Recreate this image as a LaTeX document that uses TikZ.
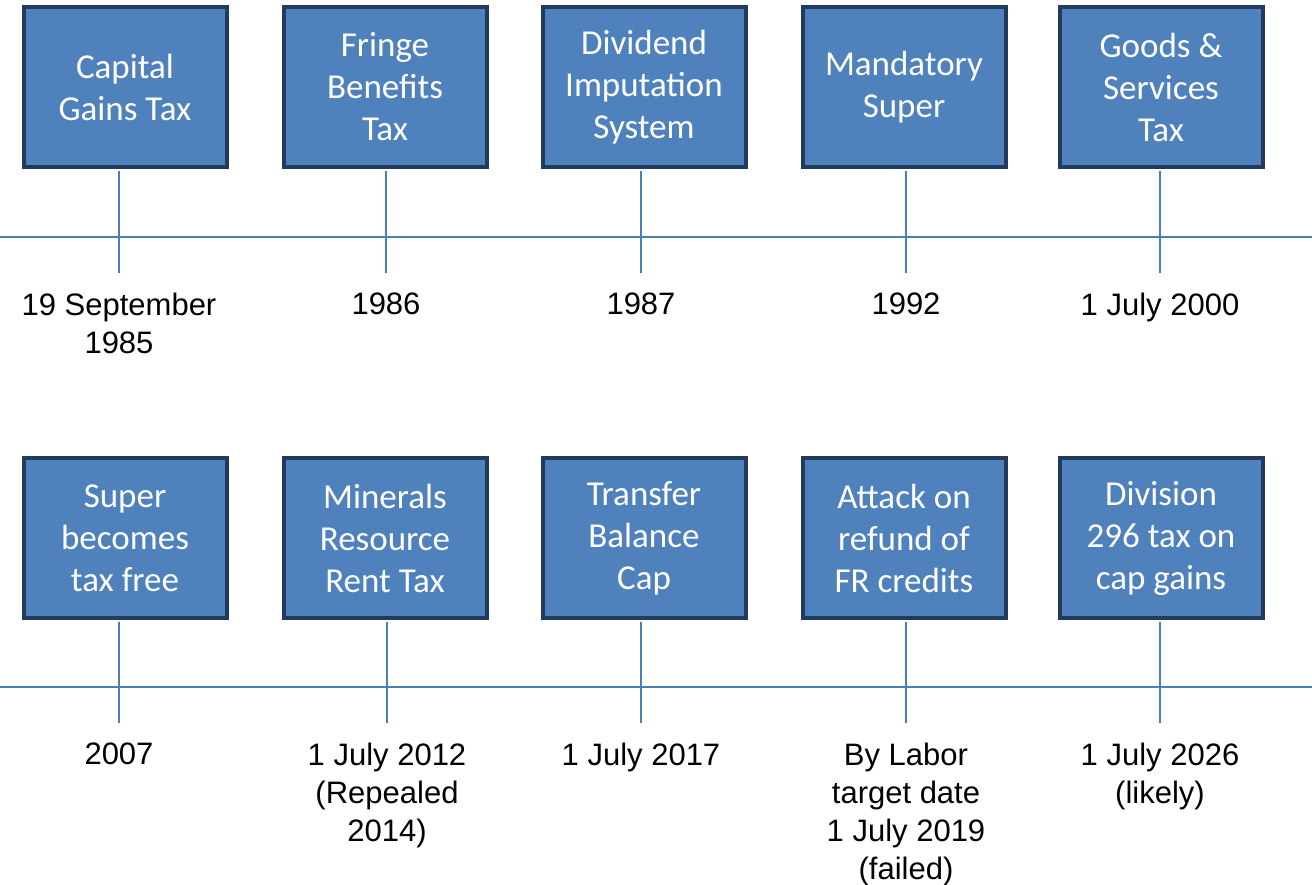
\documentclass[tikz,border=0pt]{standalone}
\usepackage{fontspec}
\setmainfont{Liberation Sans}
\newfontfamily\boxfont{Carlito}
\usetikzlibrary{positioning}

\definecolor{boxblue}{HTML}{4F81BD}
\definecolor{boxedge}{HTML}{223A5C}
\definecolor{lineblue}{HTML}{4A7EBB}

\tikzset{
    event/.style={draw=boxedge, line width=4pt, fill=boxblue, text=white,
        minimum width=203pt, minimum height=160pt, inner sep=0pt, align=center,
        font=\boxfont\fontsize{35}{42}\selectfont},
    date/.style={inner sep=0pt, align=center, font=\fontsize{31}{38}\selectfont},
    tl/.style={draw=lineblue, line width=1.5pt}
}

\begin{document}
\begin{tikzpicture}[x=1pt,y=-1pt]
    \useasboundingbox (0,0) rectangle (1312,885);
    % top row
    \coordinate (left1) at (0,237);
    \coordinate (right1) at (1312,237);
    \draw[tl] (left1) -- (right1);
    \foreach \bx/\x/\n/\what/\when in {
        125/119/cgt/{Capital\\Gains Tax}/{19 September\\1985},
        385/386/fbt/{Fringe\\Benefits\\Tax}/{1986},
        644/641/div/{Dividend\\Imputation\\System}/{1987},
        904/906/sup/{Mandatory\\Super}/{1992},
        1161/1160/gst/{Goods \&\\Services\\Tax}/{1 July 2000}} {
        \node[event] (\n) at (\bx,87) {\what};
        \coordinate (tick\n) at (\x,273);
        \node[date, below=20pt of tick\n] (date\n) {\when};
        \draw[tl, shorten >=2pt] (tick\n) -- (tick\n |- \n.south);
    }
    % bottom row
    \coordinate (left2) at (0,687);
    \coordinate (right2) at (1312,687);
    \draw[tl] (left2) -- (right2);
    \foreach \bx/\x/\n/\what/\when in {
        125/119/free/{Super\\becomes\\tax free}/{2007},
        385/387/mrrt/{Minerals\\Resource\\Rent Tax}/{1 July 2012\\(Repealed\\2014)},
        644/641/tbc/{Transfer\\Balance\\Cap}/{1 July 2017},
        904/906/frc/{Attack on\\refund of\\FR credits}/{By Labor\\target date\\1 July 2019\\(failed)},
        1161/1160/dvs/{Division\\296 tax on\\cap gains}/{1 July 2026\\(likely)}} {
        \node[event] (\n) at (\bx,538) {\what};
        \coordinate (tick\n) at (\x,723);
        \node[date, below=20pt of tick\n] (date\n) {\when};
        \draw[tl, shorten >=2pt] (tick\n) -- (tick\n |- \n.south);
    }
\end{tikzpicture}
\end{document}
